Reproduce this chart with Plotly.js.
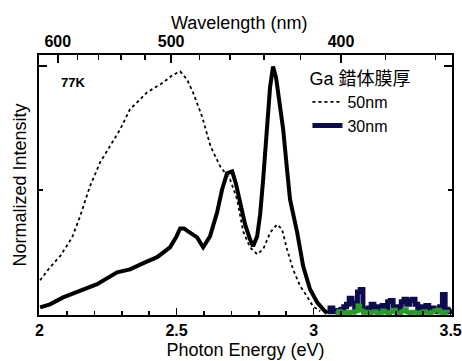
<!DOCTYPE html>
<html><head><meta charset="utf-8">
<script src="https://cdn.plot.ly/plotly-3.0.1.min.js"></script>
<style>html,body{margin:0;padding:0;background:#fff}#chart{width:462px;height:361px}
#chart .xtick text, #chart .x2tick text{font-weight:bold !important}</style>
</head><body><div id="chart"></div>
<script>
// 50 nm film (dotted)
const e50 = [2.002,2.038,2.075,2.119,2.148,2.184,2.221,2.257,2.294,2.330,2.392,2.451,2.484,2.513,2.538,2.560,2.593,2.624,2.659,2.695,2.721,2.743,2.768,2.794,2.816,2.842,2.867,2.885,2.903,2.925,2.951,2.976,2.998,3.024];
const i50 = [0.137,0.189,0.234,0.310,0.395,0.516,0.612,0.677,0.745,0.826,0.894,0.934,0.963,0.979,0.946,0.894,0.797,0.677,0.596,0.544,0.463,0.334,0.270,0.242,0.262,0.330,0.362,0.342,0.262,0.181,0.113,0.072,0.032,0.012];
// 30 nm film (thick black)
const e30 = [2.002,2.038,2.086,2.159,2.210,2.283,2.330,2.385,2.429,2.476,2.498,2.513,2.527,2.542,2.575,2.597,2.622,2.648,2.666,2.684,2.703,2.717,2.732,2.750,2.768,2.779,2.794,2.805,2.816,2.830,2.841,2.852,2.863,2.874,2.889,2.903,2.914,2.940,2.962,2.987,3.013,3.035,3.049];
const i30 = [0.028,0.040,0.068,0.101,0.121,0.169,0.181,0.209,0.230,0.270,0.310,0.346,0.346,0.334,0.310,0.270,0.314,0.411,0.503,0.568,0.576,0.524,0.443,0.362,0.302,0.274,0.314,0.403,0.544,0.785,0.914,0.999,0.954,0.866,0.745,0.584,0.463,0.330,0.193,0.101,0.048,0.020,0.004];
// high-energy noise tail (navy)
const eNavy = [3.05,3.06,3.07,3.08,3.09,3.10,3.11,3.12,3.13,3.14,3.15,3.16,3.17,3.18,3.19,3.20,3.21,3.22,3.23,3.24,3.25,3.26,3.27,3.28,3.29,3.30,3.31,3.32,3.33,3.34,3.35,3.36,3.37,3.38,3.39,3.40,3.41,3.42,3.43,3.44,3.45,3.46,3.47,3.48,3.49,3.50];
const iNavy = [0.010,0.025,0.010,0.015,0.008,0.020,0.030,0.040,0.065,0.045,0.020,0.090,0.100,0.020,0.010,0.025,0.040,0.015,0.030,0.020,0.035,0.015,0.050,0.055,0.020,0.030,0.015,0.050,0.060,0.040,0.055,0.060,0.040,0.020,0.030,0.020,0.035,0.015,0.025,0.020,0.010,0.030,0.080,0.020,0.010,0.020];
// green noise tail
const eGreen = [3.08,3.09,3.10,3.11,3.12,3.13,3.14,3.15,3.16,3.17,3.18,3.19,3.20,3.21,3.22,3.23,3.24,3.25,3.26,3.27,3.28,3.29,3.30,3.31,3.32,3.33,3.34,3.35,3.36,3.37,3.38,3.39,3.40,3.41,3.42,3.43,3.44,3.45,3.46,3.47,3.48,3.49];
const iGreen = [0.004,0.012,0.006,0.008,0.004,0.010,0.006,0.012,0.035,0.015,0.006,0.010,0.004,0.008,0.012,0.004,0.006,0.015,0.008,0.004,0.010,0.018,0.006,0.004,0.012,0.020,0.008,0.004,0.010,0.006,0.004,0.008,0.012,0.006,0.004,0.010,0.015,0.018,0.008,0.004,0.010,0.006];
// top axis (wavelength)
const wlMajor = [600,500,400];
const wlMinor = [580,560,540,520,480,460,440,420,380,360];
const eTicks = [2,2.5,3,3.5];
const hc = 1240;

const F = 'Arial, "Liberation Sans", "Noto Sans CJK JP", sans-serif';
const FB = '"Liberation Sans", Arial, sans-serif';
const traces = [
  {x:eNavy, y:iNavy, mode:'lines', name:'30nm', line:{color:'#0c0c4e', width:5, shape:'hv'}, legendrank:2},
  {x:eGreen, y:iGreen, mode:'lines', line:{color:'#2a9a2a', width:4, shape:'hv'}, showlegend:false},
  {x:e50, y:i50, mode:'lines', name:'50nm', line:{color:'#000', width:1.8, dash:'dot'}, legendrank:1},
  {x:e30, y:i30, mode:'lines', line:{color:'#000', width:4}, showlegend:false},
  {x:[2], y:[0], xaxis:'x2', mode:'markers', marker:{opacity:0}, showlegend:false, hoverinfo:'skip'}
];
const layout = {
  width:462, height:361,
  margin:{l:39, r:10, t:55, b:46},
  paper_bgcolor:'#fff', plot_bgcolor:'#fff',
  font:{family:F, color:'#000'},
  showlegend:true,
  legend:{x:0.65, y:0.975, xanchor:'left', yanchor:'top', bgcolor:'rgba(0,0,0,0)',
    font:{size:16, family:F}, title:{text:'Ga 錯体膜厚', font:{size:18, family:F}},
    tracegroupgap:0, traceorder:'normal', itemwidth:30},
  xaxis:{range:[1.998,3.505], showline:true, linewidth:2, linecolor:'#000', mirror:false,
    ticks:'inside', ticklen:7, tickwidth:1.5, tickcolor:'#000',
    tickvals:eTicks, ticktext:eTicks.map(String),
    tickfont:{size:16, family:FB, weight:700},
    minor:{tickmode:'linear', tick0:2, dtick:0.1, ticks:'inside', ticklen:4, tickwidth:1.5, tickcolor:'#000'},
    showgrid:false, zeroline:false,
    title:{text:'Photon Energy (eV)', font:{size:18, family:F}, standoff:5}},
  xaxis2:{overlaying:'x', side:'top', matches:'x', range:[1.998,3.505], showline:true, linewidth:2, linecolor:'#000',
    ticks:'inside', ticklen:8, tickwidth:1.5, tickcolor:'#000',
    tickvals:wlMajor.map(w=>hc/w), ticktext:wlMajor.map(String),
    tickfont:{size:16, family:FB, weight:700},
    minor:{tickmode:'array', tickvals:wlMinor.map(w=>hc/w), ticks:'inside', ticklen:5, tickwidth:1.5, tickcolor:'#000'},
    showgrid:false, zeroline:false},
  yaxis:{range:[-0.003,1.045], showline:true, linewidth:2, linecolor:'#000', mirror:'ticks',
    ticks:'inside', ticklen:8, tickwidth:2, tickcolor:'#000',
    tickvals:[0,1], showticklabels:false,
    minor:{tickmode:'array', tickvals:[0.5], ticks:'inside', ticklen:4, tickwidth:2, tickcolor:'#000'},
    showgrid:false, zeroline:false,
    title:{text:'Normalized Intensity', font:{size:18, family:F}, standoff:6}},
  annotations:[
    {text:'<b>77K</b>', xref:'paper', yref:'paper', x:0.048, y:0.893, xanchor:'left', yanchor:'middle', showarrow:false, font:{size:13, family:F}},
    {text:'Wavelength (nm)', xref:'paper', yref:'paper', x:0.485, y:1.125, xanchor:'center', yanchor:'middle', showarrow:false, font:{size:18, family:F}}
  ]
};
Plotly.newPlot('chart', traces, layout, {displayModeBar:false, staticPlot:true});
</script></body></html>
